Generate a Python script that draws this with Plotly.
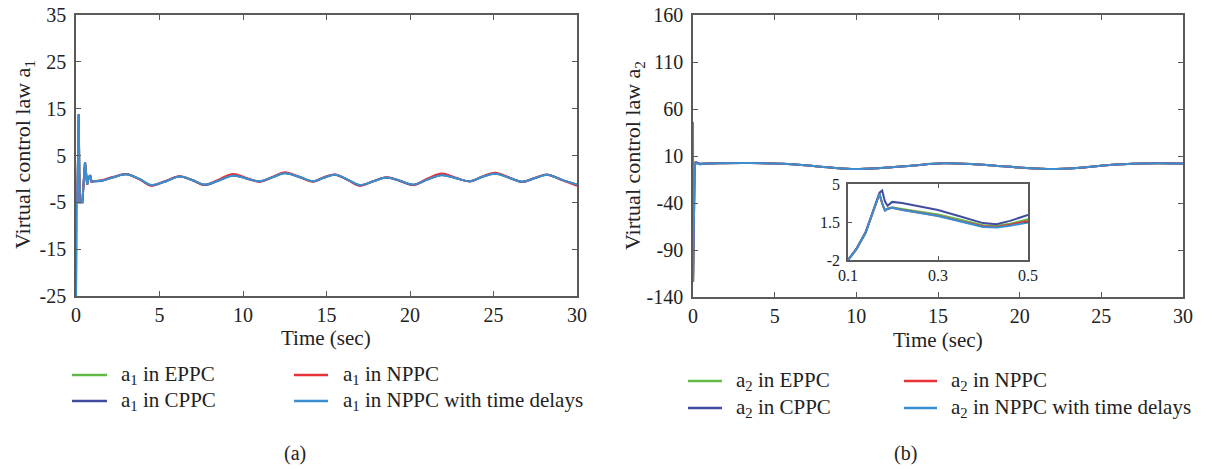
import plotly.graph_objects as go

# ---------------- data ----------------
# (a) a1 : transient part (shared by all controllers)
t1_start = [0, 0.02, 0.08, 0.16, 0.22, 0.38, 0.54, 0.67, 0.76, 0.85, 0.93, 1.0]
a1_start = [-25, -5, -5, 13.8, -5, -5, 3.6, -1.2, 0.3, 0.8, -0.6, -0.5]

# (a) a1 : oscillating part
t1 = [1.0, 1.5, 2.2, 3.0, 3.8, 4.5, 5.3, 6.2, 7.0, 7.7, 8.5, 9.4, 10.2, 11.0, 11.8,
      12.5, 13.4, 14.2, 14.8, 15.5, 16.3, 17.0, 17.8, 18.6, 19.4, 20.2, 21.0, 21.9,
      22.7, 23.6, 24.3, 25.1, 25.9, 26.7, 27.5, 28.2, 29.1, 30.0]
a1_eppc = [-0.5, -0.4, 0.3, 1.0, 0.0, -1.35, -0.6, 0.5, -0.3, -1.25, -0.4, 0.75, 0.1, -0.5, 0.4,
           1.2, 0.4, -0.5, 0.2, 0.9, -0.2, -1.35, -0.5, 0.3, -0.4, -1.25, -0.2, 0.85,
           0.2, -0.5, 0.4, 1.1, 0.3, -0.6, 0.2, 0.9, -0.2, -1.2]
a1_cppc = [-0.55, -0.45, 0.3, 1.0, -0.05, -1.4, -0.6, 0.5, -0.35, -1.3, -0.4, 0.75, 0.1, -0.55, 0.4,
           1.25, 0.35, -0.55, 0.2, 0.9, -0.25, -1.4, -0.5, 0.3, -0.45, -1.3, -0.2, 0.85,
           0.2, -0.5, 0.4, 1.15, 0.3, -0.6, 0.2, 0.9, -0.2, -1.25]
a1_nppc = [-0.5, -0.3, 0.4, 1.05, -0.1, -1.45, -0.5, 0.55, -0.3, -1.25, -0.2, 1.05, 0.2, -0.6, 0.5,
           1.4, 0.4, -0.6, 0.3, 0.95, -0.3, -1.45, -0.5, 0.35, -0.4, -1.3, 0.0, 1.15,
           0.3, -0.55, 0.5, 1.3, 0.35, -0.65, 0.25, 0.95, -0.25, -1.45]
a1_delay = [-0.5, -0.4, 0.3, 1.0, 0.0, -1.3, -0.6, 0.5, -0.3, -1.2, -0.4, 0.7, 0.1, -0.5, 0.4,
            1.2, 0.4, -0.5, 0.2, 0.9, -0.2, -1.3, -0.5, 0.3, -0.4, -1.2, -0.2, 0.8,
            0.2, -0.5, 0.4, 1.1, 0.3, -0.6, 0.2, 0.9, -0.2, -1.2]

# (b) a2 : very first samples
t2_jump = [0, 0.005, 0.1]
a2_jump = [46, -124, -2]

# (b) a2 : early transient (also shown in the inset)
t2_in = [0.1, 0.118, 0.139, 0.16, 0.170, 0.176, 0.182, 0.188, 0.198, 0.22, 0.26,
         0.3, 0.35, 0.4, 0.43, 0.46, 0.5]
a2_in_eppc = [-2, -1.05, 0.5, 2.9, 4.1, 3.2, 2.6, 2.75, 2.85, 2.7, 2.45, 2.2, 1.7, 1.2, 1.15, 1.35, 1.75]
a2_in_cppc = [-2, -1.0, 0.55, 3.0, 4.2, 4.4, 3.4, 3.0, 3.35, 3.25, 2.95, 2.6, 2.0, 1.4, 1.3, 1.6, 2.15]
a2_in_nppc = [-2, -1.05, 0.5, 2.9, 4.1, 3.2, 2.55, 2.7, 2.8, 2.62, 2.38, 2.08, 1.58, 1.1, 1.05, 1.25, 1.6]
a2_in_delay = [-2, -1.05, 0.5, 2.9, 4.1, 3.2, 2.55, 2.7, 2.8, 2.6, 2.35, 2.05, 1.55, 1.05, 1.0, 1.15, 1.45]

# (b) a2 : slow part
t2 = [0.5, 1.5, 3.5, 5.5, 7.5, 9.7, 11.5, 13.5, 15.3, 17, 19, 21.7, 23.5, 25.5, 27.5, 28.5, 30]
a2_eppc = [1.75, 2.3, 2.5, 1.8, -0.8, -3.8, -2.8, 0.0, 2.2, 1.5, -1.0, -3.8, -2.8, 0.5, 2.0, 2.3, 1.9]
a2_cppc = [2.15, 2.4, 2.5, 1.8, -0.8, -3.8, -2.8, 0.0, 2.2, 1.5, -1.0, -3.8, -2.8, 0.5, 2.0, 2.3, 1.9]
a2_nppc = [1.6, 2.2, 2.5, 1.8, -0.8, -3.8, -2.8, 0.0, 2.2, 1.5, -1.0, -3.8, -2.8, 0.5, 2.0, 2.3, 1.8]
a2_delay = [1.45, 2.2, 2.5, 1.8, -0.8, -3.8, -2.8, 0.0, 2.2, 1.5, -1.0, -3.8, -2.8, 0.5, 2.0, 2.3, 1.8]

# tick labels
x_ticks = [0, 5, 10, 15, 20, 25, 30]
y1_ticks = [-25, -15, -5, 5, 15, 25, 35]
y1_labels = ["-25", "-15", "-5", "5", "15", "25", "35"]
y2_ticks = [-140, -90, -40, 10, 60, 110, 160]
y2_labels = ["-140", "-90", "-40", "10", "60", "110", "160"]
xin_ticks = [0.1, 0.3, 0.5]
yin_ticks = [-2, 1.5, 5]
yin_labels = ["-2", "1.5", "5"]

names = ["EPPC", "CPPC", "NPPC", "NPPC with time delays"]
colors = ["#62bb46", "#404d9e", "#e63238", "#3b8fd1"]

# ---------------- figure ----------------
# the page body has an 8 px margin, so the figure is 8 px smaller and all
# page coordinates are shifted by 8 px
OFF = 8
W, H = 1208 - OFF, 469 - OFF
def px(x): return (x - OFF) / W
def py(y): return 1 - (y - OFF) / H

FONT = "Liberation Serif, Times New Roman, serif"
AX = "#5a5a5a"
TXT = "#222"

fig = go.Figure()

a1_series = [a1_eppc, a1_cppc, a1_nppc, a1_delay]
a2_in_series = [a2_in_eppc, a2_in_cppc, a2_in_nppc, a2_in_delay]
a2_series = [a2_eppc, a2_cppc, a2_nppc, a2_delay]

for c, s in zip(colors, a1_series):
    fig.add_trace(go.Scatter(x=t1_start, y=a1_start, mode="lines", line=dict(color=c, width=2),
                             xaxis="x", yaxis="y", showlegend=False, hoverinfo="skip"))
    fig.add_trace(go.Scatter(x=t1, y=s, mode="lines", line=dict(color=c, width=2, shape="spline"),
                             xaxis="x", yaxis="y", showlegend=False))

for c, si, s in zip(colors, a2_in_series, a2_series):
    fig.add_trace(go.Scatter(x=t2_jump, y=a2_jump, mode="lines", line=dict(color=c, width=2),
                             xaxis="x2", yaxis="y2", showlegend=False, hoverinfo="skip"))
    fig.add_trace(go.Scatter(x=t2_in, y=si, mode="lines", line=dict(color=c, width=2),
                             xaxis="x2", yaxis="y2", showlegend=False))
    fig.add_trace(go.Scatter(x=t2, y=s, mode="lines", line=dict(color=c, width=2, shape="spline"),
                             xaxis="x2", yaxis="y2", showlegend=False))

# inset
for c, si in zip(colors, a2_in_series):
    fig.add_trace(go.Scatter(x=t2_in, y=si, mode="lines", line=dict(color=c, width=2),
                             xaxis="x3", yaxis="y3", showlegend=False))

axis_common = dict(showline=True, linecolor=AX, linewidth=1.5, mirror="ticks", ticks="inside",
                   ticklen=5, tickcolor=AX, tickwidth=1.2, showgrid=False, zeroline=False,
                   automargin=False, ticklabeloverflow="allow",
                   tickfont=dict(family=FONT, size=20, color=TXT))

fig.update_layout(
    width=W, height=H, margin=dict(l=0, r=0, t=0, b=0, autoexpand=False),
    paper_bgcolor="white", plot_bgcolor="white", showlegend=False,
    xaxis=dict(domain=[px(76), px(577)], range=[0, 30], tickvals=x_ticks,
               anchor="y", **axis_common),
    yaxis=dict(domain=[py(296), py(15)], range=[-25, 35], tickvals=y1_ticks, ticktext=y1_labels,
               anchor="x", ticklabelstandoff=4, **axis_common),
    xaxis2=dict(domain=[px(693), px(1183)], range=[0, 30], tickvals=x_ticks,
                anchor="y2", **axis_common),
    yaxis2=dict(domain=[py(297), py(15)], range=[-140, 160], tickvals=y2_ticks, ticktext=y2_labels,
                anchor="x2", ticklabelstandoff=4, **axis_common),
)
inset_axis = dict(axis_common)
inset_axis["tickfont"] = dict(family=FONT, size=16, color=TXT)
inset_axis["ticklen"] = 4
fig.update_layout(
    xaxis3=dict(domain=[px(848), px(1028)], range=[0.1, 0.5], tickvals=xin_ticks,
                anchor="y3", **inset_axis),
    yaxis3=dict(domain=[py(260), py(184)], range=[-2, 5], tickvals=yin_ticks, ticktext=yin_labels,
                anchor="x3", ticklabelstandoff=3, **inset_axis),
)

ann = []
shapes = []
def text(x, y, s, size=21, xanchor="center", angle=0):
    ann.append(dict(x=px(x), y=py(y), xref="paper", yref="paper", text=s, showarrow=False,
                    xanchor=xanchor, yanchor="middle", textangle=angle,
                    font=dict(family=FONT, size=size, color=TXT)))

# axis titles
text(326, 338, "Time (sec)")
text(938, 340, "Time (sec)")
text(24, 155, "Virtual control law a<sub>1</sub>", size=22, angle=-90)
text(634, 155, "Virtual control law a<sub>2</sub>", size=22, angle=-90)
text(295, 453, "(a)", size=20)
text(905, 453, "(b)", size=20)

# legends
def legend_entry(x0, x1, xt, y, color, label):
    shapes.append(dict(type="line", xref="paper", yref="paper", x0=px(x0), x1=px(x1),
                       y0=py(y), y1=py(y), line=dict(color=color, width=2.5)))
    text(xt, y, label, xanchor="left")

order = [(0, 0), (1, 1), (2, 0), (3, 1)]  # (series index, row)
left_cols = {0: (72, 107, 119), 1: (72, 107, 119), 2: (294, 328, 341), 3: (294, 328, 341)}
right_cols = {0: (688, 722, 734), 1: (688, 722, 734), 2: (904, 937, 949), 3: (904, 937, 949)}
rows_left = [375, 401]
rows_right = [381, 408]
for i, row in order:
    x0, x1, xt = left_cols[i]
    legend_entry(x0, x1, xt, rows_left[row], colors[i], "a<sub>1</sub> in " + names[i])
    x0, x1, xt = right_cols[i]
    legend_entry(x0, x1, xt, rows_right[row], colors[i], "a<sub>2</sub> in " + names[i])

fig.update_layout(annotations=ann, shapes=shapes)
fig.write_html("out.html")
